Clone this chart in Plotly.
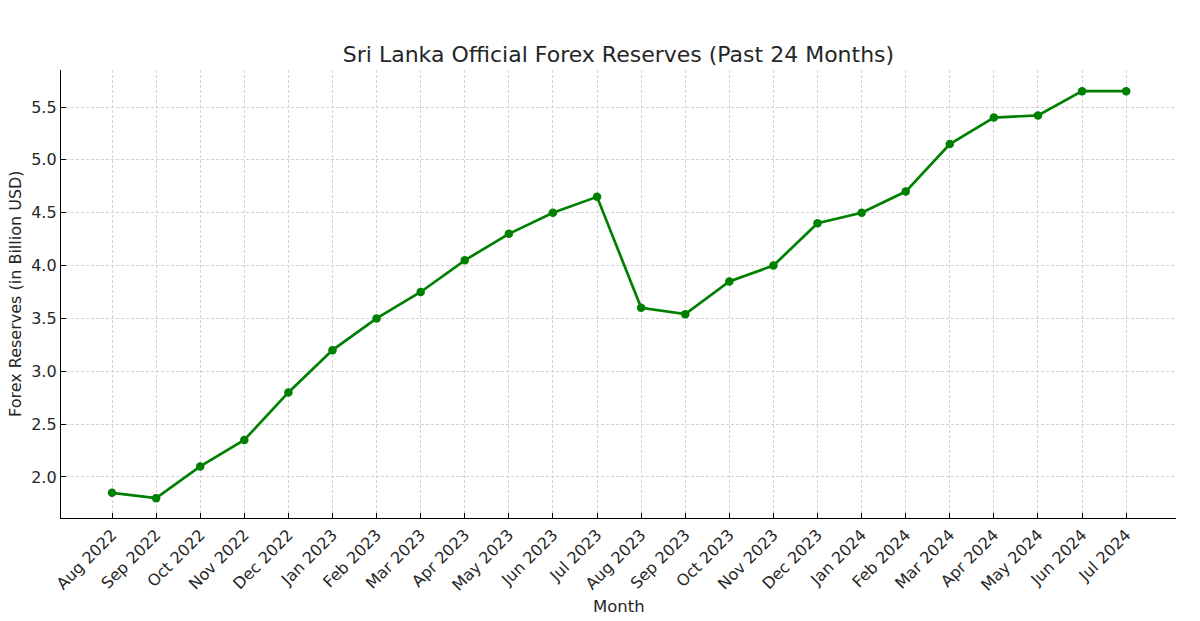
import plotly.graph_objects as go

months = ["Aug 2022", "Sep 2022", "Oct 2022", "Nov 2022", "Dec 2022", "Jan 2023",
          "Feb 2023", "Mar 2023", "Apr 2023", "May 2023", "Jun 2023", "Jul 2023",
          "Aug 2023", "Sep 2023", "Oct 2023", "Nov 2023", "Dec 2023", "Jan 2024",
          "Feb 2024", "Mar 2024", "Apr 2024", "May 2024", "Jun 2024", "Jul 2024"]
reserves = [1.85, 1.80, 2.10, 2.35, 2.80, 3.20, 3.50, 3.75, 4.05, 4.30, 4.50, 4.65,
            3.60, 3.54, 3.85, 4.00, 4.40, 4.50, 4.70, 5.15, 5.40, 5.42, 5.65, 5.65]
y_ticks = [2.0, 2.5, 3.0, 3.5, 4.0, 4.5, 5.0, 5.5]

FONT = "DejaVu Sans"
TXT = "#262626"

fig = go.Figure()
fig.add_trace(go.Scatter(
    x=months, y=reserves, mode="lines+markers",
    line=dict(color="#008000", width=2.7),
    marker=dict(color="#008000", size=8.5),
))

fig.update_layout(
    width=1200, height=621,
    margin=dict(l=61, r=24, t=70, b=103),
    paper_bgcolor="white", plot_bgcolor="white",
    showlegend=False,
    font=dict(family=FONT, color=TXT, size=16),
    title=dict(text="Sri Lanka Official Forex Reserves (Past 24 Months)",
               x=0.5, xref="paper", y=1 - 54 / 621, yref="container",
               xanchor="center", yanchor="middle",
               font=dict(family=FONT, size=22, color=TXT)),
)

grid = dict(showgrid=True, gridcolor="#d3d3d3", griddash="3px,2px", gridwidth=1,
            zeroline=False)

fig.update_xaxes(
    type="category", range=[-1.157, 24.13],
    tickangle=-45, tickfont=dict(family=FONT, size=16, color=TXT),
    showline=True, linecolor="#000000", linewidth=1.4, mirror=False,
    ticks="inside", ticklen=5, tickcolor="#000000",
    **grid,
)
fig.update_yaxes(
    range=[1.612, 5.85], tickvals=y_ticks, ticktext=[f"{v:.1f}" for v in y_ticks],
    tickfont=dict(family=FONT, size=16, color=TXT),
    showline=True, linecolor="#000000", linewidth=1.4, mirror=False,
    ticks="inside", ticklen=5, tickcolor="#000000",
    **grid,
)

fig.add_annotation(text="Month", xref="paper", yref="paper", x=0.5,
                   y=-(606 - 518) / 448, xanchor="center", yanchor="middle",
                   showarrow=False, font=dict(family=FONT, size=16.5, color=TXT))
fig.add_annotation(text="Forex Reserves (in Billion USD)", xref="paper", yref="paper",
                   x=-(61 - 15) / 1115, y=0.5, xanchor="center", yanchor="middle",
                   textangle=-90, showarrow=False,
                   font=dict(family=FONT, size=16, color=TXT))

fig.write_html("out.html")
